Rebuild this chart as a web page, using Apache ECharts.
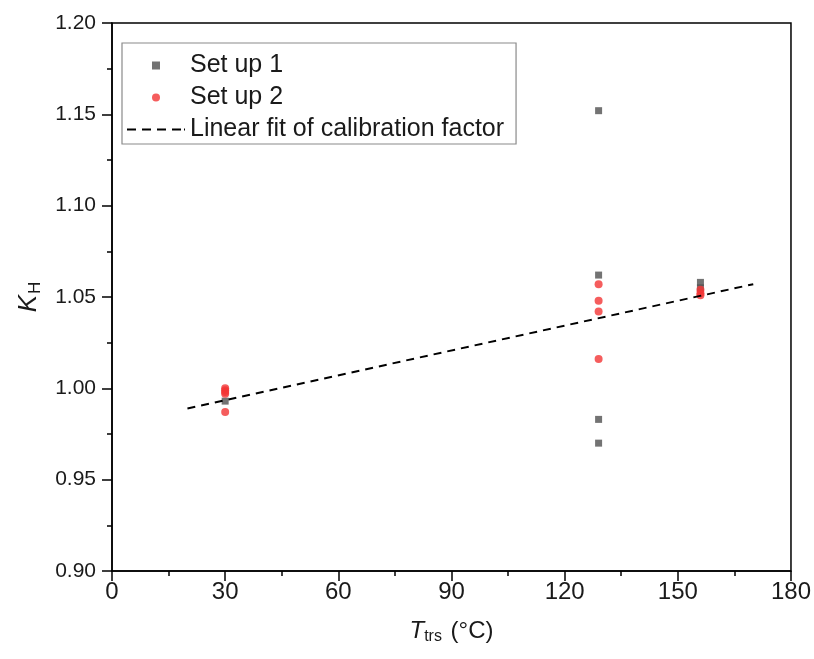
<!DOCTYPE html>
<html>
<head>
<meta charset="utf-8">
<script src="https://cdn.jsdelivr.net/npm/echarts@6/dist/echarts.min.js"></script>
<style>html,body{margin:0;padding:0;background:#fff}#c{width:814px;height:659px}</style>
</head>
<body>
<div id="c"></div>
<script>
// Data
var setup1X = [30, 129, 129, 129, 129, 156, 156];
var setup1Y = [0.993, 1.152, 1.062, 0.983, 0.970, 1.058, 1.055];
var setup2X = [30, 30, 30, 30, 30, 129, 129, 129, 129, 156, 156, 156];
var setup2Y = [1.000, 0.999, 0.998, 0.997, 0.987, 1.057, 1.048, 1.042, 1.016, 1.054, 1.052, 1.051];
var fitX = [20, 170];
var fitY = [0.989, 1.057];
var xTicks = [0, 30, 60, 90, 120, 150, 180];
var yTicks = [0.90, 0.95, 1.00, 1.05, 1.10, 1.15, 1.20];

function zip(a, b) { return a.map(function (v, i) { return [v, b[i]]; }); }

var chart = echarts.init(document.getElementById('c'));
var font = 'Liberation Sans, Arial, sans-serif';
chart.setOption({
  animation: false,
  backgroundColor: '#fff',
  textStyle: { fontFamily: font },
  grid: { left: 112, right: 20, top: 23, bottom: 88, show: true, borderColor: '#000', borderWidth: 1.5, backgroundColor: 'transparent' },
  legend: {
    orient: 'vertical',
    left: 122, top: 43,
    padding: [9, 12, 1, 5],
    itemGap: 5,
    itemWidth: 58,
    itemHeight: 8,
    symbolKeepAspect: true,
    borderColor: '#8a8a8a',
    borderWidth: 1.2,
    textStyle: { fontSize: 25, color: '#1a1a1a', fontFamily: font, lineHeight: 27 },
    data: [
      { name: 'Set up 1', icon: 'path://M0,0L1,0L1,1L0,1Z', itemStyle: { color: '#505050' } },
      { name: 'Set up 2', icon: 'circle' },
      { name: 'Linear fit of calibration factor',
        icon: 'path://M0,0h9v2h-9zM15,0h9v2h-9zM30,0h9v2h-9zM45,0h9v2h-9zM57,0h1v2h-1z',
        itemStyle: { color: '#000' } }
    ]
  },
  xAxis: {
    type: 'value',
    min: xTicks[0], max: xTicks[xTicks.length - 1], interval: 30,
    name: '{i|T}{s|trs} (°C)',
    nameLocation: 'middle', nameGap: 46,
    nameTextStyle: {
      fontSize: 24, color: '#1a1a1a',
      rich: {
        i: { fontSize: 24, fontStyle: 'italic', color: '#1a1a1a', fontFamily: font },
        s: { fontSize: 16, color: '#1a1a1a', padding: [12, 2, 0, 0], fontFamily: font }
      }
    },
    axisLine: { show: true, lineStyle: { color: '#000', width: 1.5 } },
    axisTick: { show: true, inside: false, length: 10, lineStyle: { color: '#000', width: 1.5 } },
    minorTick: { show: true, splitNumber: 2, length: 5, lineStyle: { color: '#000', width: 1.5 } },
    splitLine: { show: false },
    axisLabel: { fontSize: 24, color: '#1a1a1a', margin: 9 }
  },
  yAxis: {
    type: 'value',
    min: yTicks[0], max: yTicks[yTicks.length - 1], interval: 0.05,
    name: '{i|K}{s|H}',
    nameLocation: 'middle', nameGap: 68, nameRotate: 90,
    nameTextStyle: {
      fontSize: 26, color: '#1a1a1a',
      rich: {
        i: { fontSize: 26, fontStyle: 'italic', color: '#1a1a1a', fontFamily: font },
        s: { fontSize: 17, color: '#1a1a1a', padding: [14, 0, 0, 1], fontFamily: font }
      }
    },
    axisLine: { show: true, lineStyle: { color: '#000', width: 1.5 } },
    axisTick: { show: true, inside: false, length: 10, lineStyle: { color: '#000', width: 1.5 } },
    minorTick: { show: true, splitNumber: 2, length: 5, lineStyle: { color: '#000', width: 1.5 } },
    splitLine: { show: false },
    axisLabel: { fontSize: 21, color: '#1a1a1a', margin: 16, formatter: function (v) { return v.toFixed(2); } }
  },
  series: [
    {
      name: 'Set up 1', type: 'scatter', symbol: 'rect', symbolSize: 7,
      itemStyle: { color: '#505050' },
      data: zip(setup1X, setup1Y), z: 3
    },
    {
      name: 'Set up 2', type: 'scatter', symbol: 'circle', symbolSize: 8,
      itemStyle: { color: '#f23535' },
      data: zip(setup2X, setup2Y), z: 4
    },
    {
      name: 'Linear fit of calibration factor', type: 'line', symbol: 'none',
      itemStyle: { color: '#000' },
      lineStyle: { color: '#000', width: 2, type: [8, 6] },
      data: zip(fitX, fitY), z: 5
    }
  ]
});
</script>
</body>
</html>
